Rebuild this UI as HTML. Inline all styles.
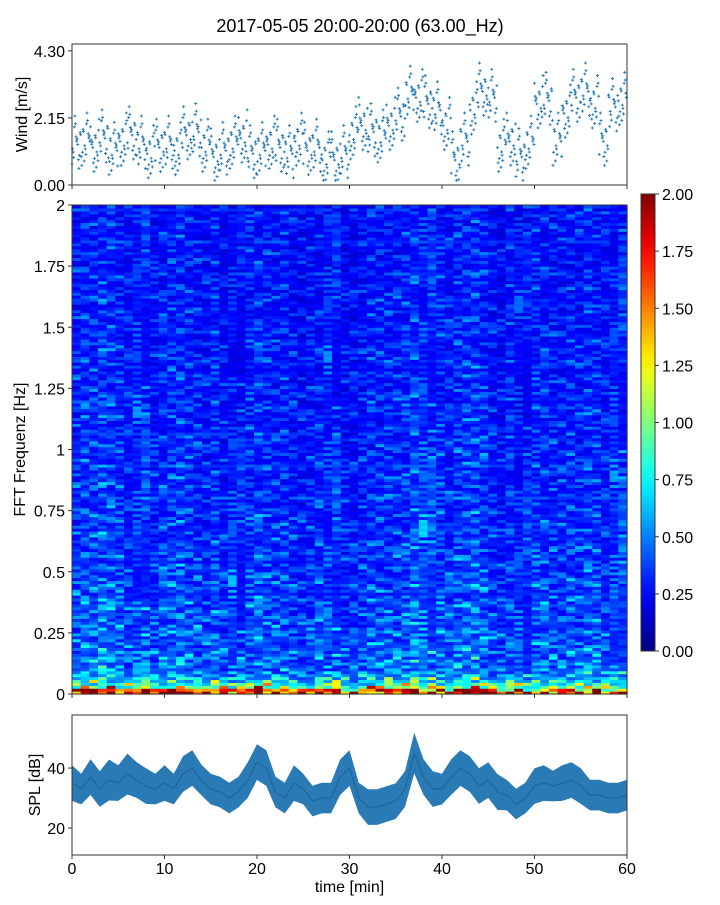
<!DOCTYPE html>
<html><head><meta charset="utf-8"><style>
body{margin:0;background:#fff;font-family:"Liberation Sans",sans-serif}
svg text{font-family:"Liberation Sans",sans-serif;fill:#000}
</style></head><body>
<svg id="c" width="720" height="900" xmlns="http://www.w3.org/2000/svg">
<text x="360" y="32" font-size="18" text-anchor="middle">2017-05-05 20:00-20:00 (63.00_Hz)</text>
</svg>
<script>
// ---- data ----
const windMinutes=[1.3,1.4,1.2,1.5,1.1,1.4,1.6,1.3,1.0,1.2,1.3,1.1,1.6,1.7,1.2,0.9,1.1,1.3,1.5,1.0,1.1,1.3,1.2,1.0,1.4,1.1,1.2,0.8,0.8,1.0,1.6,1.9,1.7,1.5,1.9,2.2,2.9,2.8,2.6,2.4,1.9,0.8,1.4,2.4,3.0,2.8,1.2,1.4,0.9,1.3,2.6,2.7,1.4,2.3,2.8,3.0,2.6,1.4,2.5,2.7];
const windOffsets=[-0.9,-0.5,0,0.35,0.8,-0.2,0.55,-0.7,0.15,1.3,-0.35,0.45,-1.1,0.25,0.95,-0.6];
const splMinutes=[35,33,37,33,36,35,38,36,34,33,35,33,38,40,36,33,32,30,32,36,42,40,32,30,35,33,29,30,30,37,40,30,27,27,28,29,33,45,37,33,33,37,40,38,34,36,32,31,28,30,34,35,34,35,36,34,31,31,30,30,31];
const splHalfWidth=[7,6,7,7,8,7,8,7,7,6,7,6,7,7,6,6,6,6,6,7,7,7,6,6,7,6,6,6,6,7,7,6,7,7,7,7,7,8,7,7,6,7,7,7,7,7,7,6,6,6,7,7,6,7,7,7,6,6,6,6,6];
const specLowRows=[1.9,1.45,1.1,0.9,0.75,0.65,0.58,0.52];
const specBands=[0.47,0.44,0.42,0.4,0.38,0.37,0.36,0.35,0.34,0.34,0.33,0.33,0.32,0.32,0.32,0.31,0.31,0.3,0.3,0.3];
const specColumns=[1.0,1.1,1.05,1.15,1.1,1.0,0.95,1.0,1.05,0.9,1.0,1.05,1.1,1.0,0.95,0.9,1.0,0.9,0.95,0.9,1.0,1.05,1.0,0.95,1.0,0.9,0.85,0.9,0.95,1.0,1.0,0.85,0.85,0.9,1.0,1.0,1.0,1.0,1.05,1.1,1.1,1.05,1.0,0.95,1.05,1.1,1.15,1.05,0.9,0.85,0.95,0.9,0.9,1.0,1.0,0.95,0.95,1.0,0.95,1.05,1.0,0.95,1.0,1.05];
const specTexture=[0.7,1.2,0.85,1.45,0.6,1.0,0.75,1.3,0.9,0.65,1.6,0.8,1.1,0.7,1.25,0.95,0.6,1.4,0.85,1.0,0.7,1.15,0.9,1.7,0.65,0.8,1.05,0.75,1.3,0.9,0.7,1.2,0.8,1.0,0.65,1.35,0.85];
const xTicks=[0,10,20,30,40,50,60];
const windTicks=["0.00","2.15","4.30"];
const specTicks=["0","0.25","0.5","0.75","1","1.25","1.5","1.75","2"];
const cbTicks=["0.00","0.25","0.50","0.75","1.00","1.25","1.50","1.75","2.00"];
const splTicks=[20,40];
// ---- helpers ----
const svg=document.getElementById('c');const NS="http://www.w3.org/2000/svg";
function mk(tag,attrs,parent){const e=document.createElementNS(NS,tag);for(const k in attrs)e.setAttribute(k,attrs[k]);(parent||svg).appendChild(e);return e;}
const X0=72,X1=627,FS=16;
const xs=t=>X0+(X1-X0)*t/60;
function jet(v){v=Math.max(0,Math.min(1,v));const r=Math.max(0,Math.min(1,1.5-Math.abs(4*v-3))),g=Math.max(0,Math.min(1,1.5-Math.abs(4*v-2))),b=Math.max(0,Math.min(1,1.5-Math.abs(4*v-1)));return `rgb(${Math.round(r*255)},${Math.round(g*255)},${Math.round(b*255)})`;}
// ---- wind panel ----
const wT=44,wB=185,wMax=4.52;const wy=v=>wB-(wB-wT)*v/wMax;
const wg=mk('g',{});
windMinutes.forEach((m,i)=>{for(let k=0;k<windOffsets.length;k++){const t=i+k/windOffsets.length;const v=Math.max(0.15,m+windOffsets[(k*5+i*7)%windOffsets.length]*0.7);const x=xs(t),y=wy(v);
const p=mk('path',{d:`M${x-1.5},${y}h3M${x},${y-1.5}v3`,stroke:'#1f77b4','stroke-width':0.9},wg);}});
const wf=mk('rect',{x:X0,y:wT,width:X1-X0,height:wB-wT,fill:'none',stroke:'#333'});
windTicks.forEach(s=>{const y=wy(parseFloat(s));mk('line',{x1:X0-4,x2:X0,y1:y,y2:y,stroke:'#333'});const t=mk('text',{x:X0-7,y:y+6,'font-size':FS,'text-anchor':'end'});t.textContent=s;});
xTicks.forEach(v=>mk('line',{x1:xs(v),x2:xs(v),y1:wB,y2:wB+4,stroke:'#333'}));
let yl=mk('text',{x:27,y:(wT+wB)/2,'font-size':FS,'text-anchor':'middle',transform:`rotate(-90 27 ${(wT+wB)/2})`});yl.textContent='Wind [m/s]';
// ---- spectrogram ----
const sT=205,sB=694;const nRows=specLowRows.length+specBands.length*8;const nCols=specColumns.length;
const sg=mk('g',{});
const cw=(X1-X0)/nCols,rh=(sB-sT)/nRows;
for(let c=0;c<nCols;c++){for(let r=0;r<nRows;r++){const base=r<specLowRows.length?specLowRows[r]:specBands[Math.floor((r-specLowRows.length)/8)];
const v=base*specColumns[c]*specTexture[(r*17+c*29+(r*c)%11)%specTexture.length];
const cell=mk('rect',{x:X0+c*cw,y:sB-(r+1)*rh,width:cw+0.6,height:rh+0.6,fill:jet(v/2)},sg);}}
mk('rect',{x:X0,y:sT,width:X1-X0,height:sB-sT,fill:'none',stroke:'#333'});
specTicks.forEach((s,i)=>{const y=sB-(sB-sT)*i/(specTicks.length-1);mk('line',{x1:X0-4,x2:X0,y1:y,y2:y,stroke:'#333'});const t=mk('text',{x:X0-7,y:y+6,'font-size':FS,'text-anchor':'end'});t.textContent=s;});
xTicks.forEach(v=>mk('line',{x1:xs(v),x2:xs(v),y1:sB,y2:sB+4,stroke:'#333'}));
yl=mk('text',{x:25,y:(sT+sB)/2,'font-size':FS,'text-anchor':'middle',transform:`rotate(-90 25 ${(sT+sB)/2})`});yl.textContent='FFT Frequenz [Hz]';
// ---- colorbar ----
const cT=194,cB=651,cX=641,cW=14;const defs=mk('defs',{});const lg=mk('linearGradient',{id:'jg',x1:0,y1:1,x2:0,y2:0},defs);
for(let i=0;i<=20;i++)mk('stop',{offset:i/20,'stop-color':jet(i/20)},lg);
const cb=mk('rect',{x:cX,y:cT,width:cW,height:cB-cT,fill:'url(#jg)',stroke:'#333'});
cbTicks.forEach((s,i)=>{const y=cB-(cB-cT)*i/(cbTicks.length-1);mk('line',{x1:cX+cW,x2:cX+cW+4,y1:y,y2:y,stroke:'#333'});const t=mk('text',{x:cX+cW+7,y:y+6,'font-size':FS});t.textContent=s;});
// ---- SPL panel ----
const pT=715,pB=855,pMin=11,pMax=57.7;const py=v=>pB-(pB-pT)*(v-pMin)/(pMax-pMin);
let up='',lo='';splMinutes.forEach((m,i)=>{up+=`${i?'L':'M'}${xs(i)},${py(m+splHalfWidth[i]*0.85)}`;});
for(let i=splMinutes.length-1;i>=0;i--)lo+=`L${xs(i)},${py(splMinutes[i]-splHalfWidth[i]*0.85)}`;
const band=mk('path',{d:up+lo+'Z',fill:'#2a7ab5'});
let ln='';splMinutes.forEach((m,i)=>{ln+=`${i?'L':'M'}${xs(i)},${py(m)}`;});
const sl=mk('path',{d:ln,fill:'none',stroke:'#1f6aa0','stroke-width':1.5});
mk('rect',{x:X0,y:pT,width:X1-X0,height:pB-pT,fill:'none',stroke:'#333'});
splTicks.forEach(v=>{const y=py(v);mk('line',{x1:X0-4,x2:X0,y1:y,y2:y,stroke:'#333'});const t=mk('text',{x:X0-7,y:y+6,'font-size':FS,'text-anchor':'end'});t.textContent=v;});
xTicks.forEach(v=>{mk('line',{x1:xs(v),x2:xs(v),y1:pB,y2:pB+4,stroke:'#333'});const t=mk('text',{x:xs(v),y:pB+19,'font-size':FS,'text-anchor':'middle'});t.textContent=v;});
yl=mk('text',{x:40,y:(pT+pB)/2,'font-size':FS,'text-anchor':'middle',transform:`rotate(-90 40 ${(pT+pB)/2})`});yl.textContent='SPL [dB]';
const xl=mk('text',{x:(X0+X1)/2,y:892,'font-size':FS,'text-anchor':'middle'});xl.textContent='time [min]';
</script>
</body></html>
